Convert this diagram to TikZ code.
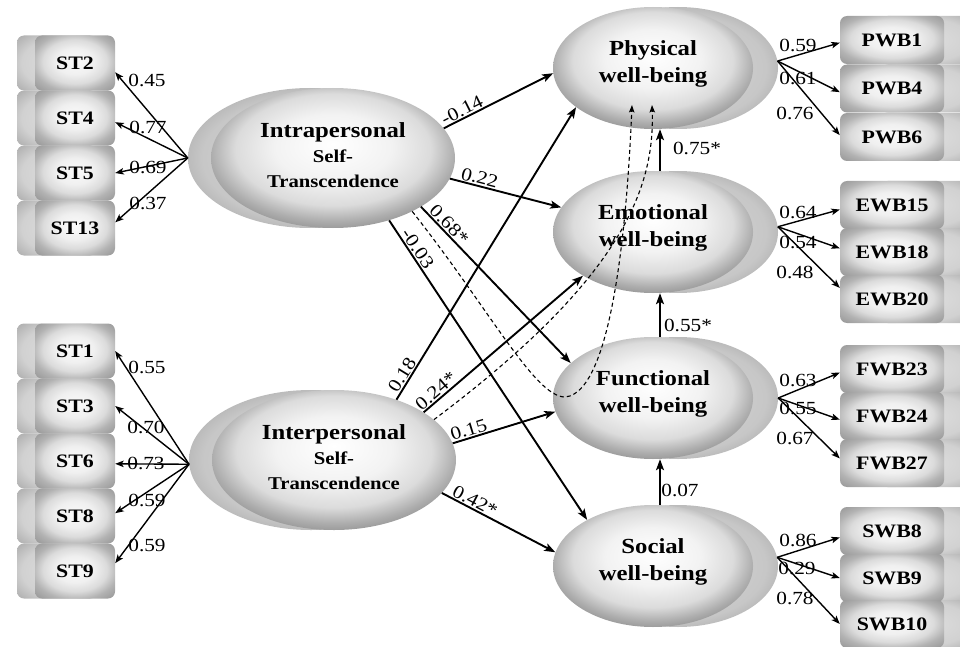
\documentclass[tikz,border=0pt]{standalone}
\usepackage{fontspec}
\setmainfont{Liberation Serif}[FakeStretch=1.15]
\usetikzlibrary{shapes.geometric,arrows.meta,calc}

% shadings for latent variables (ellipses) and indicators (boxes)
\pgfdeclareradialshading{lvfront}{\pgfpoint{0bp}{5bp}}{%
  color(0bp)=(white); color(12bp)=(white!95!black); color(20bp)=(black!14);
  color(25bp)=(black!32); color(31bp)=(black!50); color(50bp)=(black!50)}
\pgfdeclareradialshading{lvback}{\pgfpoint{0bp}{0bp}}{%
  color(0bp)=(black!16); color(22bp)=(black!22); color(30bp)=(black!34);
  color(50bp)=(black!34)}
\pgfdeclareradialshading{boxfront}{\pgfpoint{0bp}{2bp}}{%
  color(0bp)=(white!98!black); color(12bp)=(white!94!black); color(20bp)=(black!14);
  color(27bp)=(black!30); color(36bp)=(black!42); color(50bp)=(black!42)}
\pgfdeclareradialshading{boxback}{\pgfpoint{0bp}{0bp}}{%
  color(0bp)=(black!13); color(22bp)=(black!18); color(35bp)=(black!32);
  color(50bp)=(black!32)}

\newcommand\dpad[1]{\rule[-#1]{0pt}{#1}}

\tikzset{
  lv/.style={ellipse, inner sep=0pt, shade, shading=lvfront, align=center},
  lvb/.style={ellipse, inner sep=0pt, shade, shading=lvback},
  lvL/.style={lv, minimum width=244pt, minimum height=140pt,
              font=\bfseries\fontsize{18}{25}\selectfont},
  lvLb/.style={lvb, minimum width=244pt, minimum height=140pt},
  lvR/.style={lv, minimum width=200pt, minimum height=122pt,
              font=\bfseries\fontsize{21.5}{27}\selectfont},
  lvRb/.style={lvb, minimum width=200pt, minimum height=122pt},
  ind/.style={rectangle, rounded corners=7pt, inner sep=0pt, shade, shading=boxfront,
              font=\bfseries\fontsize{19}{22}\selectfont},
  indb/.style={rectangle, rounded corners=7pt, inner sep=0pt, shade, shading=boxback},
  indL/.style={ind, minimum width=80pt, minimum height=55pt},
  indLb/.style={indb, minimum width=80pt, minimum height=55pt},
  indR/.style={ind, minimum width=104pt, minimum height=48pt},
  indRb/.style={indb, minimum width=95pt, minimum height=48pt},
  reg/.style={line width=1.9pt, -{Stealth[length=11pt,width=8pt,inset=2.5pt]}},
  load/.style={line width=1.4pt, -{Stealth[length=8.5pt,width=6.5pt,inset=2pt]}},
  med/.style={line width=1.1pt, dash pattern=on 4pt off 3pt,
              -{Stealth[length=7.5pt,width=5.5pt,inset=1.5pt]}},
  coef/.style={font=\fontsize{18.5}{20}\selectfont, inner sep=1pt},
}

\begin{document}
\begin{tikzpicture}[x=1pt,y=-1pt]
\useasboundingbox (0,0) rectangle (960,647);
\clip (0,0) rectangle (960,647);

% ---------- indicator boxes, left ----------
\foreach \n/\y in {st2b/63, st4b/118, st5b/173, st13b/228,
                   st1b/351, st3b/406, st6b/461, st8b/516, st9b/571}
  \node[indLb] (\n) at (57,\y) {};
\node[indL] (st2)  at (75,63)  {ST2};
\node[indL] (st4)  at (75,118) {ST4};
\node[indL] (st5)  at (75,173) {ST5};
\node[indL] (st13) at (75,228) {ST13};
\node[indL] (st1)  at (75,351) {ST1};
\node[indL] (st3)  at (75,406) {ST3};
\node[indL] (st6)  at (75,461) {ST6};
\node[indL] (st8)  at (75,516) {ST8};
\node[indL] (st9)  at (75,571) {ST9};

% ---------- indicator boxes, right ----------
\foreach \n/\y in {pwb1b/40, pwb4b/88.5, pwb6b/137, ewb15b/205, ewb18b/252, ewb20b/299,
                   fwb23b/369, fwb24b/416, fwb27b/463, swb8b/531, swb9b/578, swb10b/624}
  \node[indRb] (\n) at (928,\y) {};
\node[indR] (pwb1)  at (892,40)   {PWB1};
\node[indR] (pwb4)  at (892,88.5) {PWB4};
\node[indR] (pwb6)  at (892,137)  {PWB6};
\node[indR] (ewb15) at (892,205)  {EWB15};
\node[indR] (ewb18) at (892,252)  {EWB18};
\node[indR] (ewb20) at (892,299)  {EWB20};
\node[indR] (fwb23) at (892,369)  {FWB23};
\node[indR] (fwb24) at (892,416)  {FWB24};
\node[indR] (fwb27) at (892,463)  {FWB27};
\node[indR] (swb8)  at (892,531)  {SWB8};
\node[indR] (swb9)  at (892,578)  {SWB9};
\node[indR] (swb10) at (892,624)  {SWB10};

% ---------- latent variables ----------
\node[lvLb] (intraB) at (310,158) {};
\node[lvL]  (intra)  at (333,158)
  {{\fontsize{21.5}{25}\selectfont Intrapersonal}\\Self-\\Transcendence\dpad{5.4pt}};
\node[lvLb] (interB) at (311,460) {};
\node[lvL]  (inter)  at (334,460)
  {{\fontsize{21.5}{25}\selectfont Interpersonal}\\Self-\\Transcendence\dpad{5.4pt}};

\node[lvRb] (physB) at (678,68)  {};
\node[lvR]  (phys)  at (653,68)  {Physical\\well-being\dpad{13.7pt}};
\node[lvRb] (emoB)  at (678,232) {};
\node[lvR]  (emo)   at (653,232) {Emotional\\well-being\dpad{13.7pt}};
\node[lvRb] (funcB) at (678,398) {};
\node[lvR]  (func)  at (653,398) {Functional\\well-being\dpad{13.7pt}};
\node[lvRb] (socB)  at (678,566) {};
\node[lvR]  (soc)   at (653,566) {Social\\well-being\dpad{13.7pt}};

% ---------- loadings, left ----------
\draw[load] (intraB.west) -- (st2.-13);
\draw[load] (intraB.west) -- (st4.-6);
\draw[load] (intraB.west) -- (st5.east);
\draw[load] (intraB.west) -- (st13.8);
\node[coef] (l1) at (147,80)  {0.45};
\node[coef] (l2) at (148,127) {0.77};
\node[coef] (l3) at (148,167) {0.69};
\node[coef] (l4) at (148,203) {0.37};

\draw[load] (interB.182) -- (st1.east);
\draw[load] (interB.182) -- (st3.east);
\draw[load] (interB.182) -- (st6.-4);
\draw[load] (interB.182) -- (st8.4);
\draw[load] (interB.182) -- (st9.11);
\node[coef] (l5) at (147,367) {0.55};
\node[coef] (l6) at (146,427) {0.70};
\node[coef] (l7) at (146,463) {0.73};
\node[coef] (l8) at (147,500) {0.59};
\node[coef] (l9) at (147,545) {0.59};

% ---------- loadings, right ----------
\draw[load] (physB.4) -- (pwb1.183);
\draw[load] (physB.4) -- (pwb4.184);
\draw[load] (physB.4) -- (pwb6.178);
\node[coef] (r1) at (798,45)  {0.59};
\node[coef] (r2) at (798,78)  {0.61};
\node[coef] (r3) at (795,113) {0.76};

\draw[load] (emoB.3) -- (ewb15.185);
\draw[load] (emoB.3) -- (ewb18.176);
\draw[load] (emoB.3) -- (ewb20.168);
\node[coef] (r4) at (798,212) {0.64};
\node[coef] (r5) at (798,242) {0.54};
\node[coef] (r6) at (795,272) {0.48};

\draw[load] (funcB.east) -- (fwb23.184);
\draw[load] (funcB.east) -- (fwb24.184);
\draw[load] (funcB.east) -- (fwb27.175);
\node[coef] (r7) at (798,380) {0.63};
\node[coef] (r8) at (798,408) {0.55};
\node[coef] (r9) at (795,438) {0.67};

\draw[load] (socB.5) -- (swb8.187);
\draw[load] (socB.5) -- (swb9.west);
\draw[load] (socB.5) -- (swb10.west);
\node[coef] (r10) at (798,540) {0.86};
\node[coef] (r11) at (797,568) {0.29};
\node[coef] (r12) at (795,598) {0.78};

% ---------- structural paths ----------
\draw[reg] (intra.15)  -- node[coef, sloped, above, pos=0.2]  (p1) {-0.14} (phys.183);
\draw[reg] (intra.-10) -- node[coef, sloped, above, pos=0.25] (p2) {0.22}  (emo.165);
\draw[reg] (intra.-29) -- node[coef, sloped, above, pos=0.15] (p3) {0.68*} (func.157);
\draw[reg] (intra.-48) -- node[coef, sloped, above, pos=0.11] (p4) {-0.03} (soc.145);
\draw[reg] (inter.44)  -- node[coef, sloped, above, pos=0.07] (p5) {0.18}  (phys.207);
\draw[reg] (inter.28)  -- node[coef, sloped, above, pos=0.11] (p6) {0.24*} (emo.212);
\draw[reg] (inter.8)   -- node[coef, sloped, above, pos=0.18] (p7) {0.15}  (func.188);
\draw[reg] (inter.-17) -- node[coef, sloped, above, pos=0.26] (p8) {0.42*} (soc.172);

\draw[reg] ([xshift=7pt]emo.north)  -- ([xshift=7pt]phys.south);
\draw[reg] ([xshift=7pt]func.north) -- ([xshift=7pt]emo.south);
\draw[reg] ([xshift=7pt]soc.north)  -- ([xshift=7pt]func.south);
\node[coef] (v1) at (697,148) {0.75*};
\node[coef] (v2) at (688,325) {0.55*};
\node[coef] (v3) at (680,490) {0.07};

% ---------- indirect (mediated) effects ----------
\coordinate (tipA) at ($(phys.center)+(-21,37)$);
\coordinate (tipB) at ($(phys.center)+(-1,37)$);
\coordinate (loopA) at (565,397);
\draw[med] (intra.-34) .. controls (490,310) and (535,397) .. (loopA)
           .. controls (615,393) and (628,200) .. (tipA);
\draw[med] (inter.22) .. controls (620,280) and (655,190) .. (tipB);
\end{tikzpicture}
\end{document}
